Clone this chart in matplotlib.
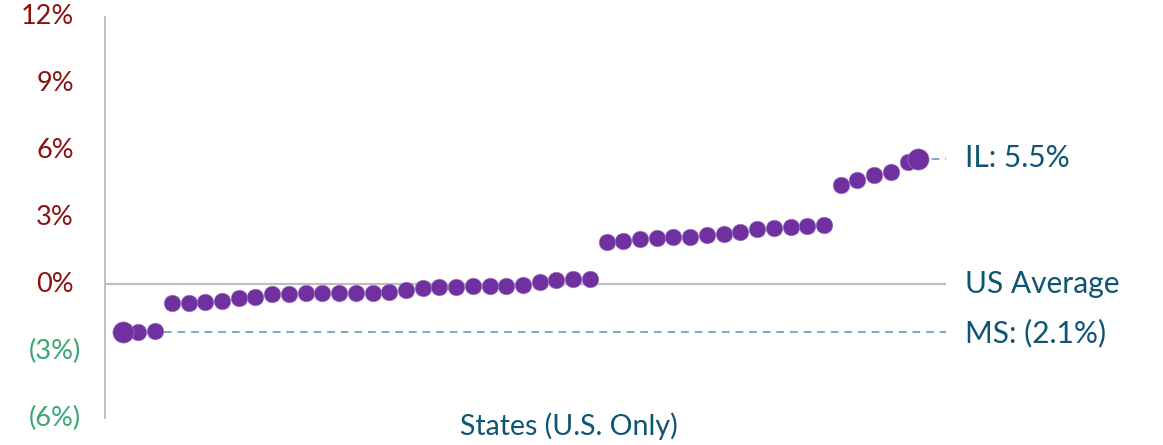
import matplotlib
matplotlib.use("Agg")
import matplotlib.pyplot as plt
import matplotlib.transforms as mtransforms
import numpy as np

# Data (percent difference vs US average, sorted)
state_values = [-2.18, -2.15, -2.10,
                -0.84, -0.82, -0.78, -0.76, -0.60, -0.58, -0.45, -0.44, -0.40, -0.40,
                -0.39, -0.39, -0.38, -0.36, -0.24, -0.17, -0.13, -0.12, -0.08, -0.08,
                -0.06, -0.03, 0.10, 0.18, 0.24, 0.24,
                1.89, 1.94, 2.03, 2.10, 2.12, 2.12, 2.21, 2.25, 2.33, 2.48, 2.55, 2.57,
                2.63, 2.65,
                4.48, 4.67, 4.93, 5.02, 5.51]
highlight_names = ["MS", "IL"]
highlight_pos = [0.05, 47.6]
highlight_values = [-2.12, 5.64]
highlight_labels = ["MS: (2.1%)", "IL: 5.5%"]
yticks = [-6, -3, 0, 3, 6, 9, 12]
ytick_labels = ["(6%)", "(3%)", "0%", "3%", "6%", "9%", "12%"]
x_label = "States (U.S. Only)"
avg_label = "US Average"

plt.rcParams['font.family'] = ['Lato', 'DejaVu Sans']

W, H = 1163, 445
fig = plt.figure(figsize=(W / 100, H / 100), dpi=100)
ax = fig.add_axes([105 / W, (H - 418) / H, (946 - 105) / W, (418 - 17) / H])

purple = "#7030A0"
teal = "#0E5473"
dash_col = "#7FA8C2"

x = np.arange(len(state_values))
ax.axhline(0, color="#BFBFBF", lw=1.6, zorder=1)
for xp, v in zip(highlight_pos, highlight_values):
    ax.plot([xp, 49.3], [v, v], ls=(0, (4, 3)), color=dash_col, lw=1.4, zorder=1)
ax.scatter(x, state_values, s=145, color=purple, edgecolors="#A88BC8", linewidths=0.4, zorder=3)
ax.scatter(highlight_pos, highlight_values, s=235, color=purple, edgecolors="#A88BC8",
           linewidths=0.4, zorder=4)

ax.set_xlim(-1.0, 49.3)
ax.set_ylim(-6, 12)
ax.set_yticks(yticks)
ax.set_yticklabels([])
ax.tick_params(axis="y", length=0)
ax.set_xticks([])
for s in ["top", "right", "bottom"]:
    ax.spines[s].set_visible(False)
ax.spines["left"].set_color("#BFBFBF")
ax.spines["left"].set_linewidth(1.4)

# y tick labels, accounting-style alignment (positives leave room for ")")
blend = mtransforms.blended_transform_factory(fig.transFigure, ax.transData)
for v, lab in zip(yticks, ytick_labels):
    if v < 0:
        ax.text(81 / W, v, lab, transform=blend, ha="right", va="center",
                color="#3AA676", fontsize=19.5)
    else:
        ax.text(74 / W, v, lab, transform=blend, ha="right", va="center",
                color="#8B1111", fontsize=19.5)

fig.text(965 / W, 1 - 158 / H, highlight_labels[1], color=teal, fontsize=21.5, va="center", ha="left")
fig.text(965 / W, 1 - 284 / H, avg_label, color=teal, fontsize=21.5, va="center", ha="left")
fig.text(965 / W, 1 - 333 / H, highlight_labels[0], color=teal, fontsize=21.5, va="center", ha="left")
fig.text(569 / W, 1 - 426 / H, x_label, color=teal, fontsize=20.5, va="center", ha="center")

fig.savefig("out.png", dpi=100)
